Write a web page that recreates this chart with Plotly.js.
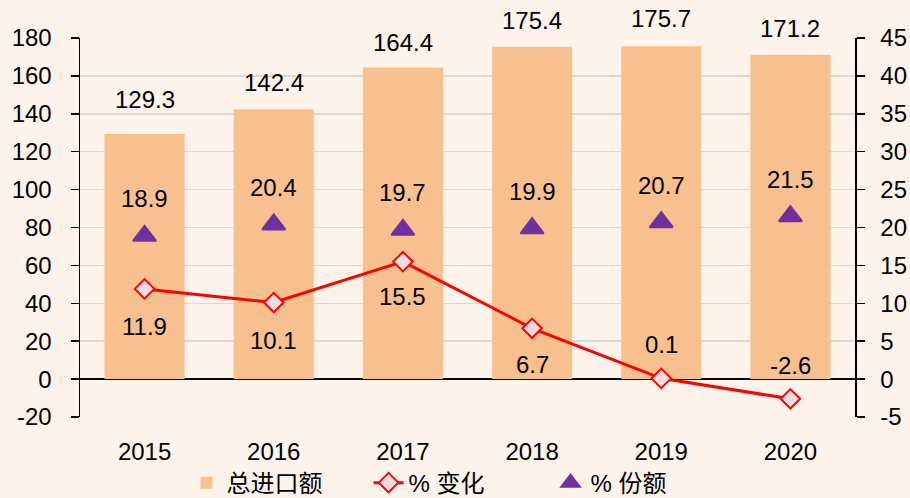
<!DOCTYPE html>
<html>
<head>
<meta charset="utf-8">
<script src="https://cdn.plot.ly/plotly-3.0.1.min.js"></script>
<style>
  html, body { margin: 0; padding: 0; background: #FDF3EB; }
  #chart { width: 910px; height: 498px; }
</style>
</head>
<body>
<div id="chart"></div>
<script>
// ---- data ----
var years = ['2015', '2016', '2017', '2018', '2019', '2020'];
var totalImports = [129.3, 142.4, 164.4, 175.4, 175.7, 171.2];   // 总进口额 (left axis)
var pctChange = [11.9, 10.1, 15.5, 6.7, 0.1, -2.6];               // % 变化 (right axis)
var pctShare = [18.9, 20.4, 19.7, 19.9, 20.7, 21.5];              // % 份额 (right axis)
var leftTicks = [-20, 0, 20, 40, 60, 80, 100, 120, 140, 160, 180];
var rightTicks = [-5, 0, 5, 10, 15, 20, 25, 30, 35, 40, 45];

// ---- label offsets (pixels, style only) ----
var barLabelShift = [35, 27, 25, 26, 28, 26];
var shareLabelShift = [37, 37, 37, 37, 37, 37];
var changeLabelShift = [-38, -38, -35, -36, 34, 33];

var FONT = 'Liberation Sans, Arial, Noto Sans CJK SC, sans-serif';
var BG = '#FDF3EB';

var traces = [
  {
    type: 'bar', name: '总进口额', x: years, y: totalImports,
    marker: { color: '#F9C08F' }, width: 0.62
  },
  {
    type: 'scatter', mode: 'lines+markers', name: '% 变化', x: years, y: pctChange,
    yaxis: 'y2',
    line: { color: '#FF0000', width: 3 },
    marker: { symbol: 'diamond', size: 15, color: '#EEDCDF', line: { color: '#FF0000', width: 2 } }
  },
  {
    type: 'scatter', mode: 'markers', name: '% 份额', x: years, y: pctShare,
    yaxis: 'y2',
    marker: { symbol: 'triangle-up', size: 20, color: '#7030A0', line: { color: '#7030A0', width: 2 } }
  }
];

// annotation x uses the category index (numeric-looking category names are ambiguous)
var annotations = [];
years.forEach(function (yr, i) {
  annotations.push({ x: i, y: totalImports[i], xref: 'x', yref: 'y', text: totalImports[i].toFixed(1),
    showarrow: false, yanchor: 'middle', yshift: barLabelShift[i], font: { family: FONT, size: 24, color: '#000' } });
  annotations.push({ x: i, y: pctShare[i], xref: 'x', yref: 'y2', text: pctShare[i].toFixed(1),
    showarrow: false, yanchor: 'middle', yshift: shareLabelShift[i], font: { family: FONT, size: 24, color: '#000' } });
  annotations.push({ x: i, y: pctChange[i], xref: 'x', yref: 'y2', text: pctChange[i].toFixed(1),
    showarrow: false, yanchor: 'middle', yshift: changeLabelShift[i], font: { family: FONT, size: 24, color: '#000' } });
});

var layout = {
  width: 910, height: 498,
  paper_bgcolor: BG, plot_bgcolor: BG,
  font: { family: FONT, size: 24, color: '#000' },
  margin: { l: 80, r: 55, t: 38, b: 81, pad: 0, autoexpand: false },
  showlegend: true,
  legend: {
    orientation: 'h', xref: 'container', x: 0.205, xanchor: 'left',
    yref: 'container', y: 0.03, yanchor: 'middle',
    entrywidth: 137, entrywidthmode: 'pixels',
    font: { family: FONT, size: 24, color: '#000' }, bgcolor: 'rgba(0,0,0,0)', traceorder: 'normal'
  },
  xaxis: {
    type: 'category', categoryorder: 'array', categoryarray: years,
    range: [-0.5, 5.5], automargin: false,
    showline: false, ticks: '', ticklabelstandoff: 18,
    showgrid: false, zeroline: false,
    tickfont: { family: FONT, size: 24, color: '#000' }
  },
  // helper axis: only draws the between-category tick marks along the zero line
  xaxis2: {
    type: 'linear', range: [-0.5, 5.5], overlaying: 'x',
    anchor: 'free', position: 0.1, automargin: false,
    tickvals: [0.5, 1.5, 2.5, 3.5, 4.5],
    showticklabels: false, showline: false, showgrid: false, zeroline: false,
    ticks: 'outside', ticklen: 8, tickcolor: '#000', tickwidth: 1.5
  },
  yaxis: {
    range: [-20, 180], tickvals: leftTicks, ticktext: leftTicks.map(String), automargin: false,
    showline: true, linecolor: '#000', linewidth: 1.5,
    ticks: 'outside', ticklen: 8, tickcolor: '#000', tickwidth: 1.5,
    ticklabelstandoff: 14,
    showgrid: true, gridcolor: '#DDD8D3', gridwidth: 1.5,
    zeroline: true, zerolinecolor: '#000', zerolinewidth: 1.5,
    tickfont: { family: FONT, size: 24, color: '#000' }
  },
  yaxis2: {
    range: [-5, 45], tickvals: rightTicks, ticktext: rightTicks.map(String), automargin: false,
    overlaying: 'y', side: 'right',
    showline: true, linecolor: '#000', linewidth: 1.5,
    ticks: 'outside', ticklen: 8, tickcolor: '#000', tickwidth: 1.5,
    ticklabelstandoff: 11,
    showgrid: false, zeroline: false,
    tickfont: { family: FONT, size: 24, color: '#000' }
  },
  annotations: annotations
};

Plotly.newPlot('chart', traces, layout, { displayModeBar: false, staticPlot: true });
</script>
</body>
</html>
